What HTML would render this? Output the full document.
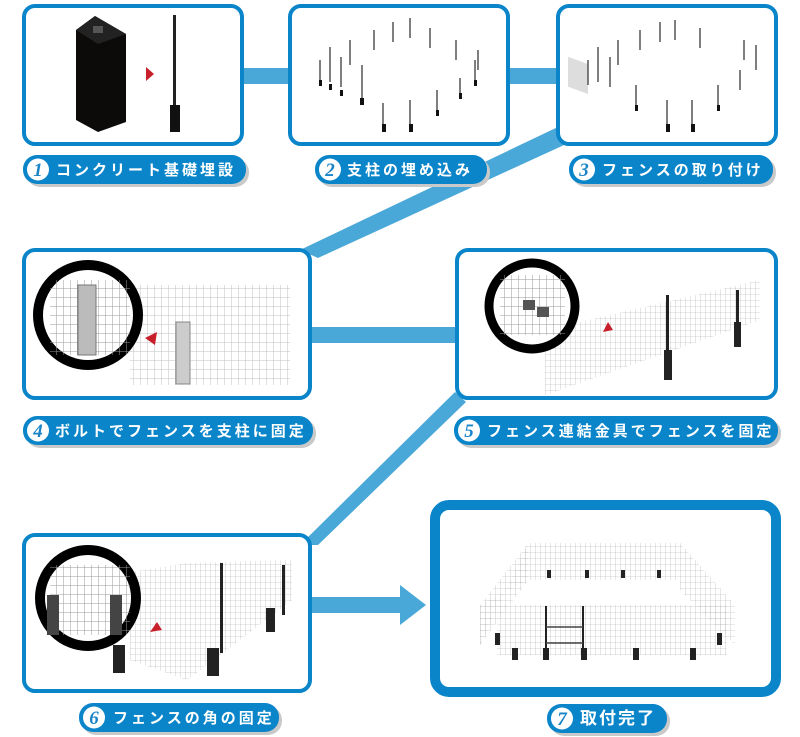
<!DOCTYPE html>
<html><head><meta charset="utf-8"><style>
html,body{margin:0;padding:0;background:#fff;}
svg{display:block}
text{font-family:"Liberation Sans","Noto Sans CJK JP",sans-serif;font-weight:bold;fill:#fff;}
.num{font-family:"Liberation Serif",serif;font-style:italic;fill:#1a84c6;font-size:19px;}
</style></head><body>
<svg width="800" height="737" viewBox="0 0 800 737" xmlns="http://www.w3.org/2000/svg">
<defs>
<pattern id="g" width="5" height="6" patternUnits="userSpaceOnUse"><path d="M0 0H5M0 0V6" stroke="#aaa" stroke-width="0.6" fill="none"/></pattern>
<pattern id="g2" width="7" height="9" patternUnits="userSpaceOnUse"><path d="M0 0H7M0 0V9" stroke="#999" stroke-width="1" fill="none"/></pattern>
</defs>
<!-- connectors -->
<g fill="#4aa8d8">
<rect x="242" y="68" width="48" height="16"/>
<rect x="508" y="68" width="50" height="16"/>
<polygon points="560,126 575,140 318,258 300,250"/>
<rect x="310" y="327" width="147" height="16"/>
<polygon points="455,392 466,402 318,545 300,545"/>
<rect x="310" y="597" width="92" height="16"/>
<polygon points="400,585 426,605 400,625"/>
</g>
<!-- boxes -->
<g fill="#fff" stroke="#0a85c9" stroke-width="4">
<rect x="24" y="6" width="218" height="138" rx="11"/>
<rect x="290" y="6" width="218" height="138" rx="11"/>
<rect x="558" y="6" width="218" height="138" rx="11"/>
<rect x="24" y="250" width="286" height="148" rx="11"/>
<rect x="457" y="250" width="319" height="148" rx="11"/>
<rect x="24" y="535" width="286" height="156" rx="11"/>
<rect x="435" y="505" width="341" height="187" rx="14" stroke-width="10"/>
</g>
<!-- box1 content -->
<polygon points="76,30 95,16 126,34 126,122 98,132 76,120" fill="#0d0a0a"/>
<polygon points="76,30 95,16 126,34 98,44" fill="#222"/>
<rect x="93" y="26" width="10" height="7" fill="#555"/>
<polygon points="146,67 154,74 146,81" fill="#c8202a"/>
<rect x="173" y="15" width="3" height="90" fill="#222"/>
<rect x="170" y="105" width="10" height="27" fill="#111"/>
<!-- box2 posts -->
<g stroke="#555" stroke-width="1.5">
<path d="M320 60v25M330 47v35M341 57v30M350 40v25M362 65v35M383 103v27M410 100v30M437 90v25M460 78v20M475 60v25M478 50v20M456 40v20M430 28v20M410 18v20M393 22v20M374 30v20"/>
</g>
<g fill="#111"><rect x="319" y="80" width="3" height="6"/><rect x="329" y="84" width="3" height="6"/><rect x="340" y="90" width="3" height="6"/><rect x="360" y="98" width="4" height="7"/><rect x="382" y="124" width="4" height="8"/><rect x="409" y="124" width="4" height="8"/><rect x="436" y="110" width="3" height="6"/><rect x="459" y="93" width="3" height="6"/><rect x="474" y="80" width="3" height="6"/></g>
<!-- box3 posts -->
<rect x="568" y="55" width="20" height="30" fill="#ddd" transform="skewY(20) translate(0,-205)"/>
<g stroke="#555" stroke-width="1.5">
<path d="M588 60v25M598 47v35M610 57v30M618 40v25M636 85v25M667 100v27M692 100v30M718 85v25M740 70v20M756 45v25M744 40v20M700 28v20M675 20v20M660 22v20M640 30v20"/>
</g>
<g fill="#111"><rect x="666" y="124" width="4" height="8"/><rect x="691" y="124" width="4" height="8"/><rect x="717" y="105" width="3" height="6"/><rect x="635" y="105" width="3" height="6"/></g>
<!-- box4 -->
<rect x="130" y="285" width="160" height="100" fill="url(#g2)" opacity="0.6"/>
<rect x="176" y="322" width="14" height="62" fill="#ccc" stroke="#888"/>
<polygon points="145,338 157,332 155,345" fill="#c8202a"/>
<circle cx="88" cy="315" r="50" fill="#fff" stroke="#000" stroke-width="10"/>
<rect x="50" y="280" width="80" height="75" fill="url(#g2)"/>
<rect x="78" y="285" width="18" height="70" fill="#bbb" stroke="#777"/>
<!-- box5 -->
<polygon points="545,330 760,280 760,320 545,395" fill="url(#g)"/>
<rect x="666" y="295" width="3" height="60" fill="#222"/><rect x="664" y="350" width="8" height="30" fill="#222"/>
<rect x="736" y="290" width="3" height="40" fill="#222"/><rect x="734" y="322" width="7" height="25" fill="#222"/>
<polygon points="603,332 613,330 608,322" fill="#c8202a"/>
<circle cx="532" cy="306" r="43" fill="#fff" stroke="#000" stroke-width="9"/>
<rect x="500" y="275" width="65" height="60" fill="url(#g2)"/>
<rect x="523" y="300" width="12" height="10" fill="#555"/><rect x="537" y="307" width="12" height="10" fill="#555"/>
<!-- box6 -->
<polygon points="130,572 187,563 187,680 130,660" fill="url(#g)"/>
<polygon points="187,563 292,560 292,600 187,680" fill="url(#g)"/>
<rect x="220" y="563" width="3" height="90" fill="#222"/><rect x="207" y="648" width="12" height="28" fill="#222"/>
<rect x="282" y="565" width="3" height="50" fill="#222"/><rect x="266" y="608" width="9" height="24" fill="#222"/>
<rect x="113" y="645" width="12" height="28" fill="#222"/>
<polygon points="150,632 162,630 157,622" fill="#c8202a"/>
<circle cx="88" cy="598" r="48" fill="#fff" stroke="#000" stroke-width="10"/>
<rect x="50" y="565" width="80" height="70" fill="url(#g2)"/>
<rect x="47" y="595" width="12" height="40" fill="#444"/><rect x="110" y="595" width="12" height="40" fill="#444"/>
<!-- box7 -->
<polygon points="528,543 680,543 735,605 735,645 680,590 680,580 528,580 480,605 480,645" fill="url(#g)"/>
<rect x="497" y="605" width="230" height="50" fill="url(#g)"/>
<polygon points="480,605 528,543 528,580 480,645" fill="url(#g)"/>
<g fill="#222">
<rect x="512" y="648" width="6" height="12"/><rect x="543" y="648" width="6" height="12"/><rect x="581" y="648" width="6" height="12"/><rect x="633" y="648" width="6" height="12"/><rect x="690" y="648" width="6" height="12"/>
<rect x="495" y="633" width="5" height="12"/><rect x="717" y="633" width="5" height="12"/>
<rect x="547" y="570" width="4" height="8"/><rect x="585" y="570" width="4" height="8"/><rect x="621" y="570" width="4" height="8"/><rect x="657" y="570" width="4" height="8"/>
<rect x="545" y="606" width="2" height="45"/><rect x="582" y="606" width="2" height="45"/>
</g>
<path d="M546 627H583M546 643H583" stroke="#444" stroke-width="1.5"/>
<!-- labels -->
<g fill="#c9c9c9"><rect x="26" y="158" width="223" height="29" rx="14"/><rect x="318" y="158" width="172" height="29" rx="14"/><rect x="572" y="158" width="204" height="29" rx="14"/><rect x="26" y="419" width="290" height="29" rx="14"/><rect x="457" y="419" width="324" height="29" rx="14"/><rect x="82" y="706" width="200" height="29" rx="14"/><rect x="550" y="707" width="120" height="29" rx="14"/></g>
<g fill="#0a85c9"><rect x="23" y="155" width="223" height="29" rx="14"/><rect x="315" y="155" width="172" height="29" rx="14"/><rect x="569" y="155" width="204" height="29" rx="14"/><rect x="23" y="416" width="290" height="29" rx="14"/><rect x="454" y="416" width="324" height="29" rx="14"/><rect x="79" y="703" width="200" height="29" rx="14"/><rect x="547" y="704" width="120" height="29" rx="14"/></g>
<g fill="#fff"><circle cx="38" cy="169.5" r="11"/><circle cx="330" cy="169.5" r="11"/><circle cx="584" cy="169.5" r="11"/><circle cx="38" cy="430.5" r="11"/><circle cx="469" cy="430.5" r="11"/><circle cx="94" cy="717.5" r="11"/><circle cx="562" cy="718.5" r="11"/></g>
<g class="num" text-anchor="middle">
<text class="num" x="38" y="176">1</text><text class="num" x="330" y="176">2</text><text class="num" x="584" y="176">3</text><text class="num" x="38" y="437">4</text><text class="num" x="469" y="437">5</text><text class="num" x="94" y="724">6</text><text class="num" x="562" y="725">7</text>
</g>
<g font-size="15" letter-spacing="3">
<text x="56" y="175">コンクリート基礎埋設</text>
<text x="347" y="175">支柱の埋め込み</text>
<text x="602" y="175">フェンスの取り付け</text>
<text x="55" y="436">ボルトでフェンスを支柱に固定</text>
<text x="487" y="436">フェンス連結金具でフェンスを固定</text>
<text x="113" y="723">フェンスの角の固定</text>
<text x="580" y="724" font-size="17" letter-spacing="2">取付完了</text>
</g>
</svg>
</body></html>
